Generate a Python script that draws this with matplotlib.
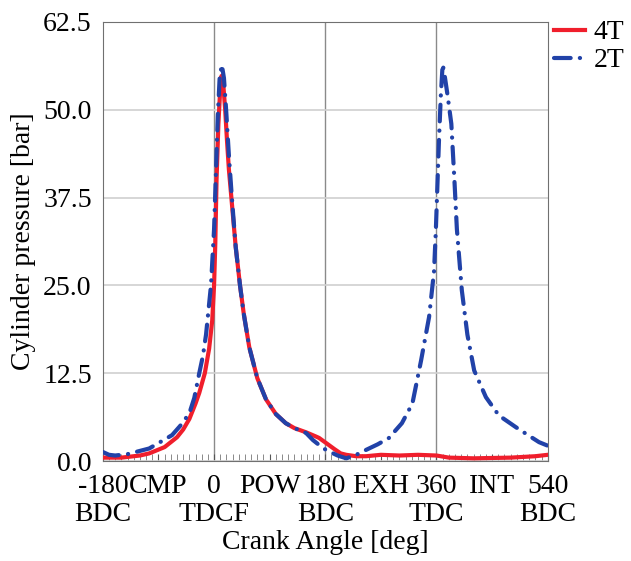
import matplotlib.pyplot as plt
import numpy as np

plt.rcParams.update({'font.family': 'serif', 'font.serif': ['Liberation Serif', 'DejaVu Serif']})

# 4T cylinder pressure (crank angle deg, bar)
ang_4t = [-180, -150, -120, -105, -80, -60, -50, -40, -30, -24, -15, -8, -3, 0, 2, 4, 7, 10, 12,
          15, 18, 21, 24, 27, 30, 35, 42, 48, 57, 70, 84, 100, 116, 130, 149, 165, 170, 181, 195, 205,
          214, 230, 246, 270, 300, 330, 360, 380, 420, 480, 520, 540]
p_4t = [0.5, 0.5, 0.8, 1.1, 2.0, 3.4, 4.5, 6.0, 8.2, 9.7, 12.5, 16, 20, 25, 31, 40, 48, 53, 54.8,
        53.5, 50, 45.5, 41.5, 38.5, 35.5, 30.5, 25, 21, 16.2, 11.8, 8.8, 6.7, 5.4, 4.7, 4.1, 3.5, 3.3, 2.6, 1.7, 1.1,
        0.9, 0.7, 0.7, 0.9, 0.8, 0.9, 0.8, 0.5, 0.4, 0.5, 0.7, 0.9]

# 2T cylinder pressure
ang_2t = [-180, -170, -160, -140, -105, -68, -55, -40, -32, -24, -18, -13, -5, 0, 3, 6, 9, 12.5,
          16, 19.5, 24, 28, 31, 35, 42, 48, 57, 70, 84, 100, 116, 130, 149, 160, 170, 181, 200, 214, 230,
          246, 265, 283, 304, 321, 335, 348, 356, 359, 364, 367, 370, 373, 378, 384, 389, 393, 401,
          410, 421, 440, 461, 489, 510, 526, 540]
p_2t = [1.3, 0.9, 0.8, 1.0, 1.8, 3.7, 5.0, 6.8, 9.0, 12.5, 15, 18, 25, 33, 41, 49, 54.5, 56.4,
        54.5, 50, 43.5, 38.5, 35, 30.5, 25, 21, 16.2, 11.8, 8.8, 6.7, 5.4, 4.7, 4.0, 3.0, 2.3, 1.6, 0.8, 0.4, 0.9,
        1.6, 2.4, 3.3, 5.4, 8.2, 14.3, 20.5, 27, 33, 45.6, 52, 56.5, 55, 52, 48, 40, 33, 24.3,
        18, 12.9, 9.1, 6.5, 4.8, 3.6, 2.7, 2.2]

xticks = [-180, -90, 0, 90, 180, 270, 360, 450, 540]
xlabels = ['-180\nBDC', 'CMP', '0\nTDCF', 'POW', '180\nBDC', 'EXH', '360\nTDC', 'INT', '540\nBDC']
yticks = [0.0, 12.5, 25.0, 37.5, 50.0, 62.5]

fs = 20

fig = plt.figure(figsize=(6.31, 5.61), dpi=100)
ax = fig.add_axes([0.163, 0.178, 0.705, 0.783])

ax.grid(axis='y', color='#d0d0d0', linewidth=1.2)
for v in [0, 180, 360]:
    ax.axvline(v, color='#8a8a8a', linewidth=1.0, zorder=1)

ax.plot(ang_4t, p_4t, color='#f01e2c', linewidth=3.0, label='4T', zorder=3)
ax.plot(ang_2t, p_2t, color='#2142a8', linewidth=3.0, label='2T', zorder=4,
        dashes=(4, 2.2, 0.05, 2.2), dash_capstyle='round')

ax.set_xlim(-180, 540)
ax.set_ylim(0, 62.5)
ax.set_xticks(xticks)
ax.set_xticklabels(xlabels)
for t in ax.get_xticklabels():
    t.set_linespacing(1.2)
ax.set_xticks(np.arange(-180, 541, 10), minor=True)
ax.set_yticks(yticks)
ax.set_yticklabels(['{:.1f}'.format(t) for t in yticks])
ax.tick_params(axis='x', which='major', direction='in', length=5, color='#555555', labelsize=fs, pad=9)
ax.tick_params(axis='x', which='minor', direction='in', length=5, color='#777777')
ax.tick_params(axis='y', length=0, labelsize=fs, pad=8)
for s in ax.spines.values():
    s.set_color('#707070')

ax.set_xlabel('Crank Angle [deg]', fontsize=fs, labelpad=2)
ax.set_ylabel('Cylinder pressure [bar]', fontsize=fs, labelpad=5)

ax.legend(loc='upper left', bbox_to_anchor=(0.99, 1.03), frameon=False, fontsize=fs,
          handlelength=1.1, handletextpad=0.3, labelspacing=0.1, borderaxespad=0.0)

plt.savefig('out.png', dpi=100)
